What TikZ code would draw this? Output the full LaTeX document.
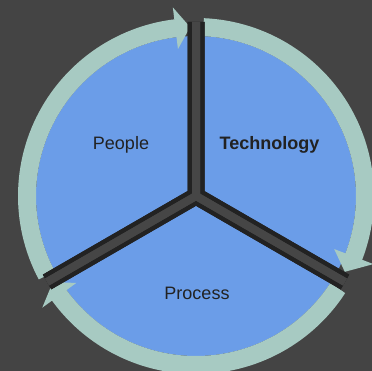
\documentclass[tikz,border=0pt]{standalone}
\usepackage{fontspec}
\setmainfont{Liberation Sans}
\definecolor{bgcol}{HTML}{444444}
\definecolor{disccol}{HTML}{6B9DE8}
\definecolor{ringcol}{HTML}{A7CAC2}
\definecolor{barline}{HTML}{222222}
\definecolor{bargrey}{HTML}{464646}
\definecolor{labelcol}{HTML}{222222}
\begin{document}
\begin{tikzpicture}
[
    x=1pt, y=1pt,
    ring/.style={draw=ringcol, line width=18pt},
    tiphead/.style={fill=ringcol},
    bar/.style={draw=barline, line width=17pt, line join=miter},
    barcore/.style={draw=bargrey, line width=8pt, line join=miter},
    lbl/.style={text=labelcol, font=\fontsize{18}{20}\selectfont, anchor=base},
]
\useasboundingbox (-196,-175) rectangle (176,196);
\clip (-196,-175) rectangle (176,196);
\fill[bgcol] (-196,-175) rectangle (176,196);
\fill[disccol] (0,0) circle (160);
\draw[ring] (208:169) arc[start angle=208, end angle=96.5, radius=169];
\fill[tiphead] (97:190) -- (92:169) -- (97:148) -- cycle;
\draw[ring] (87.5:169) arc[start angle=87.5, end angle=-21.5, radius=169];
\fill[tiphead] (-21:190) -- (-27:167) -- (-21:148) -- cycle;
\draw[ring] (-33:169) arc[start angle=-33, end angle=-144.5, radius=169];
\fill[tiphead] (-144:190) -- (-149:167) -- (-144:148) -- cycle;
\coordinate (hub) at (0,0);
\coordinate (top) at (90:174);
\coordinate (right) at (-30:172);
\coordinate (left) at (210:172);
\draw[bar] (top) -- (hub) -- (left);
\draw[bar] (top) -- (hub) -- (right);
\draw[bar] (left) -- (hub) -- (right);
\draw[barcore] (top) -- (hub) -- (left);
\draw[barcore] (top) -- (hub) -- (right);
\draw[barcore] (left) -- (hub) -- (right);
\node[lbl] (people) at (-75,46) {People};
\node[lbl, font=\fontsize{18}{20}\selectfont\bfseries] (tech) at (73.5,46) {Technology};
\node[lbl] (process) at (1,-103.5) {Process};
\end{tikzpicture}
\end{document}
